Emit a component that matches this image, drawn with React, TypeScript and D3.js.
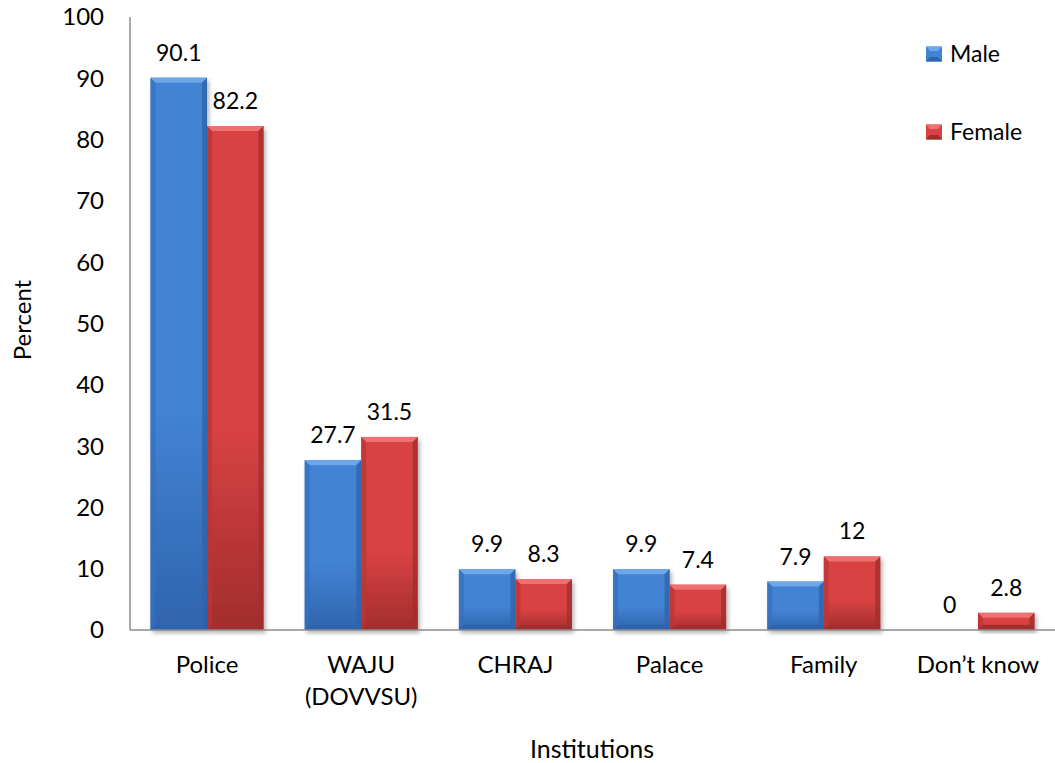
import React from "react";
import * as d3 from "d3";

// Institutions where cases are reported, percent by sex
const categories: string[][] = [
  ["Police"],
  ["WAJU", "(DOVVSU)"],
  ["CHRAJ"],
  ["Palace"],
  ["Family"],
  ["Don’t know"],
];
const male: number[] = [90.1, 27.7, 9.9, 9.9, 7.9, 0];
const female: number[] = [82.2, 31.5, 8.3, 7.4, 12, 2.8];
const seriesNames = ["Male", "Female"];
const yTicks: number[] = [0, 10, 20, 30, 40, 50, 60, 70, 80, 90, 100];

const W = 1055;
const H = 763;
const FONT = "Lato, 'Open Sans', sans-serif";

const palettes = [
  { top: "#6ea6ea", main: "#4383d4", dark: "#2f64ad", side: "#3670bd", id: "m" },
  { top: "#ee7070", main: "#d84242", dark: "#a22d2d", side: "#bb3535", id: "f" },
];

function Bevel({ x, y, w, h, p }: { x: number; y: number; w: number; h: number; p: typeof palettes[0] }) {
  if (h <= 0) return null;
  const b = Math.min(5, h / 2.5, w / 4);
  return (
    <g filter="url(#shadow)">
      <rect x={x} y={y} width={w} height={h} fill={`url(#grad-${p.id})`} />
      {/* top face */}
      <polygon points={`${x},${y} ${x + w},${y} ${x + w - b},${y + b} ${x + b},${y + b}`} fill={p.top} />
      {/* left edge */}
      <polygon points={`${x},${y} ${x + b},${y + b} ${x + b},${y + h - b} ${x},${y + h}`} fill={p.side} opacity={0.75} />
      {/* right edge */}
      <polygon points={`${x + w},${y} ${x + w - b},${y + b} ${x + w - b},${y + h - b} ${x + w},${y + h}`} fill={p.dark} opacity={0.8} />
      {/* bottom edge */}
      <polygon points={`${x},${y + h} ${x + b},${y + h - b} ${x + w - b},${y + h - b} ${x + w},${y + h}`} fill={p.dark} />
    </g>
  );
}

export default function App() {
  const left = 130;
  const right = 1055;
  const top = 17;
  const bottom = 630;

  const x = d3.scaleBand<number>().domain(d3.range(categories.length)).range([left, right]).paddingInner(0.267).paddingOuter(0.133);
  const sub = d3.scaleBand<number>().domain([0, 1]).range([0, x.bandwidth()]);
  const y = d3.scaleLinear().domain([0, 100]).range([bottom, top]);

  const series = [male, female];

  return (
    <svg width={W} height={H} style={{ display: "block", position: "absolute", left: 0, top: 0 }} fontFamily={FONT}>
      <defs>
        {palettes.map((p) => (
          <linearGradient key={p.id} id={`grad-${p.id}`} x1="0" y1="0" x2="0" y2="1">
            <stop offset="0" stopColor={p.main} />
            <stop offset="0.6" stopColor={p.main} />
            <stop offset="1" stopColor={p.dark} />
          </linearGradient>
        ))}
        <filter id="shadow" x="-10%" y="-10%" width="130%" height="130%">
          <feDropShadow dx="2" dy="3" stdDeviation="2" floodColor="#000" floodOpacity="0.3" />
        </filter>
      </defs>
      <rect width={W} height={H} fill="#fff" />

      {/* bars */}
      {series.map((vals, s) =>
        vals.map((v, i) => {
          const bx = (x(i) as number) + (sub(s) as number);
          const by = y(v);
          return <Bevel key={`${s}-${i}`} x={bx} y={by} w={sub.bandwidth()} h={bottom - by} p={palettes[s]} />;
        })
      )}

      {/* axes */}
      <line x1={left} x2={left} y1={top} y2={bottom} stroke="#8c8c8c" strokeWidth={1.5} />
      <line x1={left} x2={right} y1={bottom} y2={bottom} stroke="#8c8c8c" strokeWidth={1.5} />

      {/* y tick labels */}
      {yTicks.map((t) => (
        <text key={t} x={104} y={y(t)} dy="0.35em" textAnchor="end" fontSize={24} fill="#000">
          {t}
        </text>
      ))}

      {/* value labels */}
      {series.map((vals, s) =>
        vals.map((v, i) => {
          const cx = (x(i) as number) + (sub(s) as number) + sub.bandwidth() / 2;
          return (
            <text key={`l-${s}-${i}`} x={cx} y={y(v) - 17} textAnchor="middle" fontSize={23} fill="#000">
              {v}
            </text>
          );
        })
      )}

      {/* category labels */}
      {categories.map((lines, i) => (
        <text key={`c-${i}`} x={(x(i) as number) + x.bandwidth() / 2} y={673} textAnchor="middle" fontSize={24} fill="#000">
          {lines.map((ln, k) => (
            <tspan key={k} x={(x(i) as number) + x.bandwidth() / 2} dy={k === 0 ? 0 : 32}>
              {ln}
            </tspan>
          ))}
        </text>
      ))}

      {/* axis titles */}
      <text x={592} y={758} textAnchor="middle" fontSize={25} fill="#000">Institutions</text>
      <text transform="translate(31,320) rotate(-90)" textAnchor="middle" fontSize={24} fill="#000">Percent</text>

      {/* legend */}
      {seriesNames.map((name, s) => {
        const ly = 54 + s * 78;
        const p = palettes[s];
        return (
          <g key={name}>
            <rect x={926} y={ly - 7.5} width={16} height={15} fill={p.main} />
            <polygon points={`926,${ly - 7.5} 942,${ly - 7.5} 938,${ly - 3} 930,${ly - 3}`} fill={p.top} />
            <polygon points={`926,${ly + 7.5} 942,${ly + 7.5} 938,${ly + 3} 930,${ly + 3}`} fill={p.dark} />
            <text x={950} y={ly} dy="0.35em" fontSize={23} fill="#000">{name}</text>
          </g>
        );
      })}
    </svg>
  );
}
